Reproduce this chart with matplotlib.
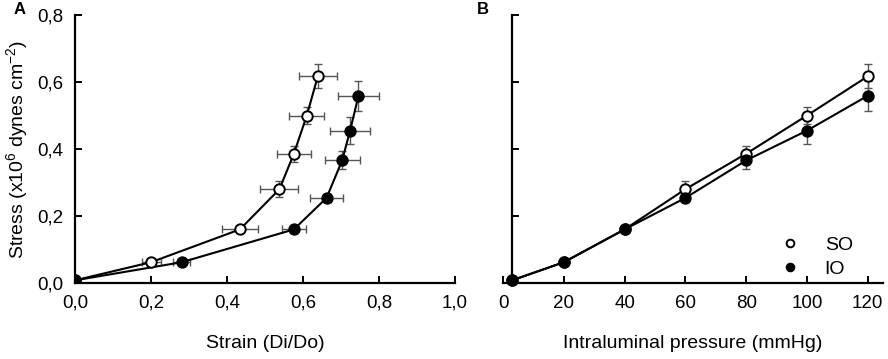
import matplotlib
matplotlib.use("Agg")
import matplotlib.pyplot as plt
from matplotlib.lines import Line2D

plt.rcParams['font.family'] = ['Liberation Sans', 'DejaVu Sans']
plt.rcParams['mathtext.fontset'] = 'custom'
plt.rcParams['mathtext.rm'] = 'Liberation Sans'
plt.rcParams['mathtext.it'] = 'Liberation Sans:italic'
plt.rcParams['mathtext.bf'] = 'Liberation Sans:bold'

# Panel A: strain vs stress
so_strain = [0.0, 0.20, 0.434, 0.538, 0.576, 0.610, 0.639]
so_strain_err = [0.0, 0.025, 0.048, 0.050, 0.044, 0.046, 0.050]
io_strain = [0.0, 0.281, 0.576, 0.662, 0.703, 0.724, 0.746]
io_strain_err = [0.0, 0.022, 0.032, 0.043, 0.046, 0.053, 0.053]

# Stress values (x10^6 dynes cm^-2)
so_stress = [0.008, 0.062, 0.160, 0.280, 0.386, 0.500, 0.617]
so_stress_err = [0.0, 0.006, 0.006, 0.023, 0.024, 0.026, 0.036]
io_stress = [0.008, 0.062, 0.160, 0.254, 0.366, 0.455, 0.559]
io_stress_err = [0.0, 0.004, 0.005, 0.012, 0.027, 0.040, 0.045]

# Panel B: pressure
pressure = [3, 20, 40, 60, 80, 100, 120]

a_xticks = [0.0, 0.2, 0.4, 0.6, 0.8, 1.0]
a_xticklabels = ["0,0", "0,2", "0,4", "0,6", "0,8", "1,0"]
yticks = [0.0, 0.2, 0.4, 0.6, 0.8]
yticklabels = ["0,0", "0,2", "0,4", "0,6", "0,8"]
b_xticks = [0, 20, 40, 60, 80, 100, 120]

FS = 13.5
LFS = 14
fig = plt.figure(figsize=(8.88, 3.59), dpi=100)
axA = fig.add_axes([75/888, 1-283/359, 380/888, 268/359])
axB = fig.add_axes([503/888, 1-283/359, 380/888, 268/359])

ekw = dict(ecolor='#555555', elinewidth=1.0, capsize=3.0, capthick=1.0)
mk = 7.5

def style(ax):
    for s in ['top', 'right']:
        ax.spines[s].set_visible(False)
    for s in ['left', 'bottom']:
        ax.spines[s].set_linewidth(1.6)
    ax.tick_params(direction='in', length=5, width=1.4, pad=8.5, labelsize=FS)

# Panel A
axA.errorbar(so_strain, so_stress, xerr=so_strain_err, yerr=so_stress_err,
             fmt='none', zorder=2, **ekw)
axA.errorbar(io_strain, io_stress, xerr=io_strain_err, yerr=io_stress_err,
             fmt='none', zorder=2, **ekw)
axA.plot(so_strain, so_stress, '-', color='black', lw=1.5, zorder=3)
axA.plot(io_strain, io_stress, '-', color='black', lw=1.5, zorder=3)
axA.plot(so_strain, so_stress, 'o', ms=mk, mfc='white', mec='black', mew=1.4, zorder=4)
axA.plot(io_strain, io_stress, 'o', ms=mk, mfc='black', mec='black', mew=1.4, zorder=4)
axA.set_xlim(0, 1.0)
axA.set_ylim(0, 0.8)
axA.set_xticks(a_xticks)
axA.set_xticklabels(a_xticklabels)
axA.set_yticks(yticks)
axA.set_yticklabels(yticklabels)
style(axA)
axA.set_xlabel("Strain (Di/Do)", fontsize=LFS, labelpad=17)
axA.set_ylabel("Stress (x10$^{6}$ dynes cm$^{-2}$)", fontsize=LFS, labelpad=5)

# Panel B
axB.errorbar(pressure, so_stress, yerr=so_stress_err, fmt='none', zorder=2, **ekw)
axB.errorbar(pressure, io_stress, yerr=io_stress_err, fmt='none', zorder=2, **ekw)
axB.plot(pressure, so_stress, '-', color='black', lw=1.5, zorder=3)
axB.plot(pressure, io_stress, '-', color='black', lw=1.5, zorder=3)
axB.plot(pressure, so_stress, 'o', ms=mk, mfc='white', mec='black', mew=1.4, zorder=4, clip_on=False)
axB.plot(pressure, io_stress, 'o', ms=mk, mfc='black', mec='black', mew=1.4, zorder=4, clip_on=False)
axB.set_xlim(0, 125)
axB.set_ylim(0, 0.8)
axB.set_xticks(b_xticks)
axB.set_yticks(yticks)
axB.set_yticklabels([])
style(axB)
axB.spines['left'].set_position(('data', 3))
axB.set_xlabel("Intraluminal pressure (mmHg)", fontsize=LFS, labelpad=17)

handles = [Line2D([], [], ls='none', marker='o', ms=5.5, mfc='white', mec='black', mew=1.4),
           Line2D([], [], ls='none', marker='o', ms=5.5, mfc='black', mec='black', mew=1.4)]
axB.legend(handles, ["SO", "IO"], loc='lower left', bbox_to_anchor=(0.729, 0.02),
           borderaxespad=0, borderpad=0,
           frameon=False, fontsize=LFS, handletextpad=1.3, labelspacing=0.3,
           handlelength=1.0)

fig.text(20/888, 1-10/359, "A", fontsize=12, fontweight='bold', ha='center', va='center')
fig.text(483/888, 1-10/359, "B", fontsize=12, fontweight='bold', ha='center', va='center')

fig.savefig("out.png", dpi=100)
